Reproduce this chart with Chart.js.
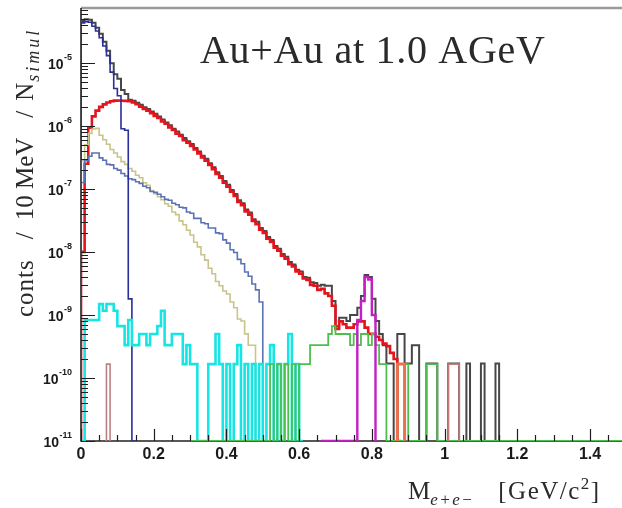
<!DOCTYPE html>
<html>
<head>
<meta charset="utf-8">
<title>Dielectron invariant mass, Au+Au 1.0 AGeV</title>
<script src="https://cdn.jsdelivr.net/npm/chart.js@4.4.1/dist/chart.umd.min.js"></script>
<style>
  html, body { margin: 0; padding: 0; background: #fff; }
</style>
</head>
<body>
<canvas id="massChart" width="622" height="508"></canvas>
<script>
// 10 MeV mass bins, contents normalised per simulated event
const binWidth = 0.01;
const massMin = 0, massMax = 1.488;
const yMin = 1e-11, yMax = 7.4e-5;
const oneEntry = 1.66e-10;   // weight of a single pair

const xTicks = [0, 0.2, 0.4, 0.6, 0.8, 1, 1.2, 1.4];
const xTickLabels = ['0', '0.2', '0.4', '0.6', '0.8', '1', '1.2', '1.4'];
const yTicks = [1e-11, 1e-10, 1e-9, 1e-8, 1e-7, 1e-6, 1e-5];
const yTickExponents = ['-11', '-10', '-9', '-8', '-7', '-6', '-5'];

// sum of all sources, from 0 GeV
const totalFrom = 0;
const total = [
  4.6e-5, 4.9e-5, 4.8e-5, 4.3e-5, 3.6e-5, 2.9e-5, 2.15e-5, 1.55e-5, 9.8e-6, 6.6e-6,
  5.6e-6, 3.7e-6, 3.2e-6, 2.6e-6, 2.5e-6, 2.32e-6, 2.16e-6, 1.97e-6, 1.85e-6, 1.69e-6,
  1.55e-6, 1.4e-6, 1.26e-6, 1.13e-6, 1.02e-6, 9.0e-7, 8.1e-7, 7.2e-7, 6.4e-7, 5.7e-7,
  5.15e-7, 4.45e-7, 3.9e-7, 3.35e-7, 3.0e-7, 2.55e-7, 2.2e-7, 1.83e-7, 1.6e-7, 1.33e-7,
  1.16e-7, 9.6e-8, 8.3e-8, 6.6e-8, 5.9e-8, 4.7e-8, 4.2e-8, 3.3e-8, 3.0e-8, 2.4e-8,
  2.15e-8, 1.72e-8, 1.55e-8, 1.24e-8, 1.12e-8, 9.3e-9, 8.4e-9, 6.9e-9, 6.3e-9, 5.2e-9,
  4.9e-9, 4.0e-9, 3.9e-9, 3.3e-9, 3.2e-9, 2.9e-9, 3.0e-9, 2.9e-9, 2.9e-9, 1.66e-9,
  6.6e-10, 9.0e-10, 9.0e-10, 8.0e-10, 1.0e-9, 1.0e-9, 1.3e-9, 2.0e-9, 4.3e-9, 4.0e-9,
  1.8e-9, 8.0e-10, 5.0e-10, 3.3e-10, 1.7e-10, 1.7e-10, 0, 5.0e-10, 5.0e-10, 1.7e-10,
  1.7e-10, 3.3e-10, 3.3e-10, 0, 0, 1.7e-10, 1.7e-10, 1.7e-10, 0, 0,
  0, 1.7e-10, 1.7e-10, 1.7e-10, 0, 0, 1.7e-10, 0, 0, 0,
  1.7e-10, 0, 0, 0, 1.7e-10, 0
];

// pi0 Dalitz
const pi0From = 0;
const pi0 = [
  4.3e-5, 4.5e-5, 4.4e-5, 3.8e-5, 3.2e-5, 2.5e-5, 1.85e-5, 1.3e-5, 7.1e-6, 3.9e-6,
  3.0e-6, 9.0e-7, 8.5e-7, 1.8e-9, 0
];

// thick red curve
const redFrom = 0;
const red = [
  1.0e-8, 2.5e-7, 9.3e-7, 1.41e-6, 1.74e-6, 2.0e-6, 2.19e-6, 2.34e-6, 2.45e-6, 2.51e-6,
  2.52e-6, 2.5e-6, 2.49e-6, 2.45e-6, 2.34e-6, 2.2e-6, 2.02e-6, 1.86e-6, 1.73e-6, 1.59e-6,
  1.44e-6, 1.33e-6, 1.17e-6, 1.08e-6, 9.4e-7, 8.6e-7, 7.5e-7, 6.9e-7, 5.9e-7, 5.4e-7,
  4.8e-7, 4.2e-7, 3.65e-7, 3.15e-7, 2.8e-7, 2.4e-7, 2.05e-7, 1.72e-7, 1.5e-7, 1.25e-7,
  1.08e-7, 9.0e-8, 7.7e-8, 6.2e-8, 5.5e-8, 4.4e-8, 3.9e-8, 3.1e-8, 2.75e-8, 2.25e-8,
  2.0e-8, 1.62e-8, 1.44e-8, 1.17e-8, 1.04e-8, 8.7e-9, 7.8e-9, 6.4e-9, 5.9e-9, 4.9e-9,
  4.5e-9, 3.8e-9, 3.6e-9, 3.0e-9, 2.9e-9, 2.5e-9, 2.6e-9, 2.2e-9, 2.0e-9, 1.4e-9,
  6.0e-10, 7.9e-10, 7.1e-10, 6.3e-10, 6.3e-10, 7.1e-10, 7.9e-10, 7.9e-10, 6.3e-10, 5.0e-10,
  5.0e-10, 4.5e-10, 4.0e-10, 3.5e-10, 3.2e-10, 2.5e-10, 2.0e-10, 0
];

// eta Dalitz (khaki)
const etaFrom = 0;
const eta = [
  2.8e-7, 5.0e-7, 7.6e-7, 8.9e-7, 9.1e-7, 7.1e-7, 6.0e-7, 5.1e-7, 4.2e-7, 3.7e-7,
  3.2e-7, 2.7e-7, 2.45e-7, 2.1e-7, 1.9e-7, 1.64e-7, 1.5e-7, 1.25e-7, 1.14e-7, 9.4e-8,
  8.4e-8, 7.5e-8, 6.7e-8, 5.8e-8, 5.3e-8, 4.3e-8, 3.9e-8, 3.1e-8, 2.7e-8, 2.2e-8,
  1.85e-8, 1.42e-8, 1.2e-8, 9.0e-9, 7.4e-9, 5.5e-9, 4.5e-9, 3.4e-9, 2.9e-9, 2.4e-9,
  2.15e-9, 1.6e-9, 1.3e-9, 8.6e-10, 8.0e-10, 5.0e-10, 3.3e-10, 3.3e-10, 0
];

// Delta Dalitz (steel blue)
const deltaFrom = 0;
const delta = [
  1.26e-7, 2.8e-7, 3.3e-7, 3.7e-7, 3.7e-7, 3.1e-7, 2.85e-7, 2.45e-7, 2.4e-7, 2.1e-7,
  1.98e-7, 1.75e-7, 1.6e-7, 1.45e-7, 1.4e-7, 1.3e-7, 1.22e-7, 1.1e-7, 1.04e-7, 9.1e-8,
  8.8e-8, 8.2e-8, 7.5e-8, 6.8e-8, 6.6e-8, 5.9e-8, 5.6e-8, 5.1e-8, 5.0e-8, 4.3e-8,
  4.1e-8, 3.4e-8, 3.4e-8, 2.9e-8, 2.8e-8, 2.4e-8, 2.4e-8, 2.0e-8, 1.95e-8, 1.55e-8,
  1.38e-8, 1.08e-8, 9.8e-9, 7.6e-9, 6.5e-9, 4.8e-9, 4.1e-9, 3.1e-9, 2.5e-9, 1.6e-9, 0
];

// low statistics sources, in entries per bin
const cyanFrom = 0;
const cyanCounts = [
  0, 5, 5, 5, 5, 9, 7, 9, 9, 7,
  4, 4, 2, 5, 2, 2, 3, 3, 2, 3,
  3, 4, 7, 2, 2, 3, 3, 3, 1, 2,
  1, 1, 0, 0, 0, 1, 1, 3, 1, 0,
  1, 0, 1, 2, 0, 1, 0, 1, 0, 1,
  0, 1, 2, 0, 1, 0, 1, 3, 0, 1,
  0
];

const greenFrom = 0.30;
const greenCounts = [
  0, 0, 0, 0, 0, 0, 0, 0, 0, 0,
  0, 0, 0, 0, 0, 0, 0, 0, 0, 0,
  0, 0, 1, 0, 1, 0, 1, 0, 1, 0,
  1, 1, 1, 2, 2, 2, 2, 2, 3, 4,
  3, 3, 3, 3, 2, 3, 2, 3, 3, 2,
  3, 2, 1, 1, 0, 0, 0, 0, 0, 1,
  0, 0, 0, 0, 0, 1, 1, 1, 0
];

const omegaFrom = 0.66;
const omegaCounts = [0, 0, 0, 0, 0, 0, 0, 0, 0, 0, 5, 10, 24, 22, 6];

const brownLowFrom = 0.07, brownLowCounts = [1];
const brownHighFrom = 1.01, brownHighCounts = [1, 1, 1];
const orangeFrom = 0.87, orangeCounts = [1, 1];

// ROOT style outline: rise from the floor, one step per bin, drop back to the floor
function histogram(from, values, floorEnd) {
  const pts = [{ x: from, y: yMin }];
  values.forEach((v, i) => pts.push({ x: from + i * binWidth, y: v > 0 ? v : yMin }));
  pts.push({ x: from + values.length * binWidth, y: yMin });
  if (floorEnd !== undefined) pts.push({ x: floorEnd, y: yMin });
  return pts;
}
const fromCounts = counts => counts.map(c => c * oneEntry);

const line = (label, data, color, width, order) => ({
  label, data, order,
  borderColor: color, borderWidth: width,
  stepped: true, pointRadius: 0, fill: false,
  borderCapStyle: 'butt', borderJoinStyle: 'miter'
});

function drawRuns(ctx, runs, x0, y0) {
  let x = x0;
  runs.forEach(r => {
    ctx.font = r.font;
    ctx.letterSpacing = r.spacing || '0px';
    ctx.fillText(r.text, x, y0 + (r.dy || 0));
    x += ctx.measureText(r.text).width + (r.gap || 0);
  });
  ctx.letterSpacing = '0px';
}

const rootFrame = {
  id: 'rootFrame',
  beforeDatasetsDraw(chart) {
    const { ctx, chartArea: a } = chart;
    ctx.save();
    ctx.strokeStyle = '#9a9a9a';
    ctx.lineWidth = 2.5;
    ctx.beginPath();
    ctx.moveTo(a.left, a.top);
    ctx.lineTo(a.right, a.top);
    ctx.stroke();
    ctx.strokeStyle = '#222';
    ctx.lineWidth = 1.6;
    ctx.beginPath();
    ctx.moveTo(a.left, a.top);
    ctx.lineTo(a.left, a.bottom);
    ctx.lineTo(a.right, a.bottom);
    ctx.stroke();
    ctx.restore();
  },
  afterDatasetsDraw(chart) {
    const { ctx, chartArea: a } = chart;
    const xs = chart.scales.x, ys = chart.scales.y;
    ctx.save();

    // ticks point into the frame
    ctx.strokeStyle = '#1e1e1e';
    ctx.lineWidth = 1.2;
    ctx.beginPath();
    yTicks.forEach(major => {
      for (let k = 1; k <= 9; k++) {
        const v = major * k;
        if (v >= yMax) break;
        const py = Math.round(ys.getPixelForValue(v)) + 0.5;
        ctx.moveTo(a.left, py);
        ctx.lineTo(a.left + (k === 1 ? 14 : 7), py);
      }
    });
    for (let i = 0; i * 0.05 <= massMax; i++) {
      const px = Math.round(xs.getPixelForValue(i * 0.05)) + 0.5;
      ctx.moveTo(px, a.bottom);
      ctx.lineTo(px, a.bottom - (i % 4 === 0 ? 12 : 6));
    }
    ctx.stroke();

    // tick labels
    ctx.fillStyle = '#1a1a1a';
    ctx.textAlign = 'center';
    ctx.textBaseline = 'top';
    ctx.font = 'bold 16px "Liberation Sans", Arial, sans-serif';
    xTicks.forEach((v, i) => ctx.fillText(xTickLabels[i], xs.getPixelForValue(v), a.bottom + 6));

    ctx.textAlign = 'right';
    ctx.textBaseline = 'middle';
    yTicks.forEach((v, i) => {
      const py = ys.getPixelForValue(v);
      const right = a.left - 9;
      ctx.font = 'bold 9px "Liberation Sans", Arial, sans-serif';
      const ew = ctx.measureText(yTickExponents[i]).width;
      ctx.fillText(yTickExponents[i], right, py - 5);
      ctx.font = 'bold 14px "Liberation Sans", Arial, sans-serif';
      ctx.fillText('10', right - ew - 0.5, py + 2);
    });
    ctx.restore();
  },
  afterDraw(chart) {
    const { ctx } = chart;
    const serif = '"Liberation Serif", "Times New Roman", serif';
    ctx.save();
    ctx.fillStyle = '#2a2a2a';
    ctx.textAlign = 'left';
    ctx.textBaseline = 'alphabetic';

    // system label inside the frame
    ctx.font = `40px ${serif}`;
    ctx.letterSpacing = '0.7px';
    ctx.fillText('Au+Au at 1.0 AGeV', 200, 63);
    ctx.letterSpacing = '0px';

    // x axis title
    drawRuns(ctx, [
      { text: 'M', font: `25px ${serif}` },
      { text: 'e+e\u2212', font: `italic 17px ${serif}`, dy: 6, gap: 24, spacing: '1.5px' },
      { text: '[GeV/c', font: `25px ${serif}`, spacing: '1.5px' },
      { text: '2', font: `17px ${serif}`, dy: -10, spacing: '1.5px' },
      { text: ']', font: `25px ${serif}` }
    ], 408, 499);

    // y axis title, reading upwards
    ctx.translate(33, 317);
    ctx.rotate(-Math.PI / 2);
    drawRuns(ctx, [
      { text: 'conts', font: `25px ${serif}`, gap: 20, spacing: '1px' },
      { text: '/', font: `25px ${serif}`, gap: 12 },
      { text: '10 MeV', font: `25px ${serif}`, gap: 20 },
      { text: '/', font: `25px ${serif}`, gap: 10 },
      { text: 'N', font: `25px ${serif}`, gap: 1 },
      { text: 'simul', font: `italic 18px ${serif}`, dy: 6, spacing: '3px' }
    ], 0, 0);
    ctx.restore();
  }
};

new Chart(document.getElementById('massChart'), {
  type: 'line',
  data: {
    datasets: [
      line('total', histogram(totalFrom, total), '#474747', 2, 20),
      line('red', histogram(redFrom, red), '#e3141b', 2.6, 19),
      line('eta Dalitz', histogram(etaFrom, eta), '#c9c38c', 1.6, 18),
      line('Delta Dalitz', histogram(deltaFrom, delta), '#5a73b6', 1.6, 17),
      line('pi0 Dalitz', histogram(pi0From, pi0), '#2b2f98', 1.6, 16),
      line('cyan', histogram(cyanFrom, fromCounts(cyanCounts)), '#18e4e4', 2.6, 15),
      line('green', histogram(greenFrom, fromCounts(greenCounts), massMax), '#4cc04c', 1.8, 14),
      line('brown low', histogram(brownLowFrom, fromCounts(brownLowCounts)), '#b98282', 1.6, 13),
      line('brown high', histogram(brownHighFrom, fromCounts(brownHighCounts)), '#c77c7c', 1.6, 12),
      line('orange', histogram(orangeFrom, fromCounts(orangeCounts)), '#e8734f', 3, 11),
      line('omega', histogram(omegaFrom, fromCounts(omegaCounts)), '#c41ec4', 2.4, 10)
    ]
  },
  options: {
    responsive: false,
    animation: false,
    devicePixelRatio: 1,
    layout: { padding: { left: 81, right: 0, top: 8, bottom: 67 } },
    scales: {
      x: { type: 'linear', min: massMin, max: massMax, display: false },
      y: { type: 'logarithmic', min: yMin, max: yMax, display: false }
    },
    plugins: { legend: { display: false }, tooltip: { enabled: false } }
  },
  plugins: [rootFrame]
});
</script>
</body>
</html>
